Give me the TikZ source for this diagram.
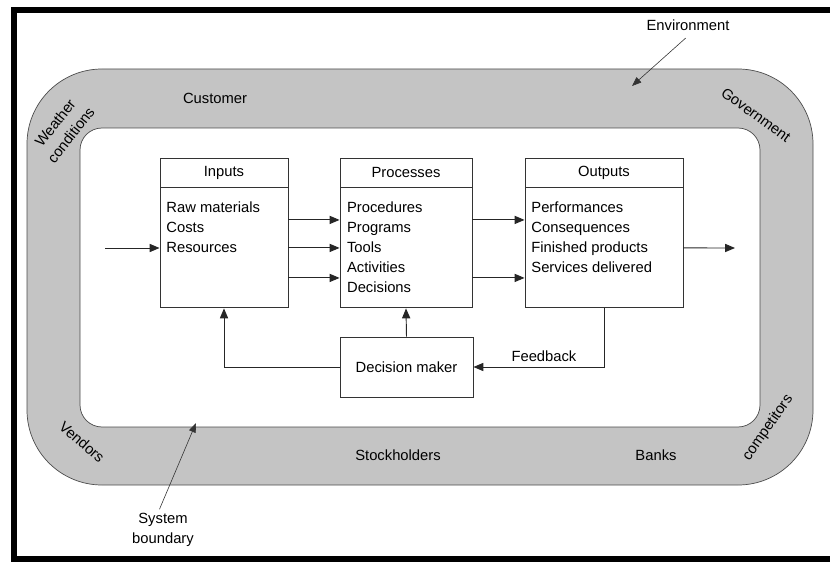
\documentclass[tikz,border=0pt]{standalone}
\usepackage{fontspec}
\setmainfont{Liberation Sans}
\usetikzlibrary{arrows.meta, positioning}

\definecolor{ringgrey}{RGB}{196,196,196}

\begin{document}
\begin{tikzpicture}[x=0.03cm, y=-0.03cm, font=\fontsize{12.6}{17}\selectfont,
    flow/.style={draw=black!85, line width=0.8pt, -{Triangle[length=8.5pt, width=7pt]}},
    pointer/.style={draw=black!80, line width=0.5pt, -{Triangle[length=8pt, width=6pt]}},
    head/.style={draw=black!80, line width=0.8pt, minimum height=0.87cm, inner sep=0pt},
    body/.style={draw=black!80, line width=0.8pt, minimum height=3.6cm, inner sep=0pt},
    items/.style={align=left, inner sep=0pt, anchor=north west}]
    \useasboundingbox (0,0) rectangle (830,563);

    % outer frame
    \draw[line width=0.18cm] (830,10) -- (14,10) -- (14,559) -- (830,559);

    % environment ring
    \path[fill=ringgrey, draw=black!70, line width=0.6pt, even odd rule]
        [rounded corners=2.25cm] (27,69) rectangle (813,485)
        [rounded corners=0.66cm] (80,128) rectangle (760,427);

    \node (cust) at (215,98) {Customer};
    \node (stock) at (398,455) {Stockholders};
    \node (banks) at (656,455) {Banks};
    \node[rotate=52, align=center] (weather) at (63,129) {Weather\\conditions};
    \node[rotate=-36] (gov) at (756,115) {Government};
    \node[rotate=55] (comp) at (768,428) {competitors};
    \node[rotate=-41] (vend) at (82,442) {Vendors};

    % inputs, processes, outputs
    \node[head, minimum width=3.84cm] (inh) at (224,172.5) {Inputs};
    \node[body, minimum width=3.84cm, below=0pt of inh] (inb) {};
    \node[items] (init) at ([xshift=0.2cm, yshift=-0.42cm]inb.north west) {Raw materials\\Costs\\Resources};

    \node[head, minimum width=3.96cm] (prh) at (406,172.5) {Processes};
    \node[body, minimum width=3.96cm, below=0pt of prh] (prb) {};
    \node[items] (prit) at ([xshift=0.22cm, yshift=-0.42cm]prb.north west) {Procedures\\Programs\\Tools\\Activities\\Decisions};

    \node[head, minimum width=4.74cm] (outh) at (604,172.5) {Outputs};
    \node[body, minimum width=4.74cm, below=0pt of outh] (outb) {};
    \node[items] (outit) at ([xshift=0.2cm, yshift=-0.42cm]outb.north west) {Performances\\Consequences\\Finished products\\Services delivered};

    \node[draw=black!80, line width=0.8pt, minimum width=3.99cm, minimum height=1.8cm] (dm) at (406.5,367) {Decision maker};

    % flows
    \coordinate (src) at (105,248);
    \coordinate (sink) at (735,248);
    \draw[flow] (src) -- (src -| inb.west);
    \foreach \dy in {0.84, 0, -0.9}
        \draw[flow] ([yshift=\dy cm]inb.east) -- ([yshift=\dy cm]prb.west);
    \foreach \dy in {0.84, -0.9}
        \draw[flow] ([yshift=\dy cm]prb.east) -- ([yshift=\dy cm]outb.west);
    \draw[flow] (outb.east) -- (sink);

    % feedback loop
    \draw[flow] (outb.south) |- (dm.east) node[pos=0.73, above=1pt] (fb) {Feedback};
    \draw[flow] (dm.west) -| (inb.south);
    \draw[flow] (dm.north) -- (prb.south);

    % callouts
    \node (env) at (688,25) {Environment};
    \coordinate (envtip) at (632,86);
    \draw[pointer] ([xshift=-2pt, yshift=-3pt]env.south) -- (envtip);

    \node[align=center] (sysb) at (163,530) {System\\boundary};
    \coordinate (sbtip) at (196,423);
    \draw[pointer] ([xshift=-3pt]sysb.north) -- (sbtip);
\end{tikzpicture}
\end{document}
